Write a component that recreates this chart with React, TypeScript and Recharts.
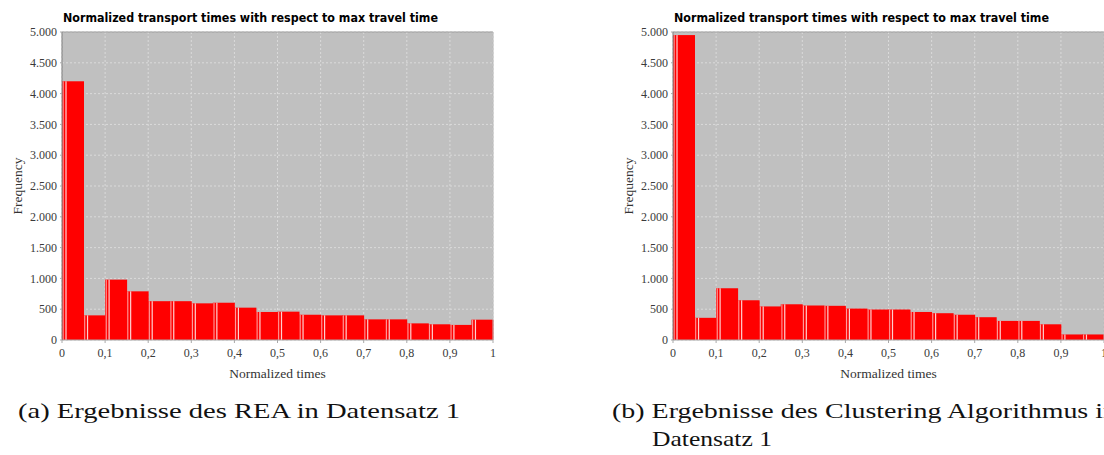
import React from 'react';
import { BarChart, Bar, XAxis, YAxis, CartesianGrid, ReferenceLine, Label } from 'recharts';

// ---- data ----
const binLabels = [
  '0–0,05', '0,05–0,1', '0,1–0,15', '0,15–0,2', '0,2–0,25', '0,25–0,3', '0,3–0,35', '0,35–0,4', '0,4–0,45', '0,45–0,5',
  '0,5–0,55', '0,55–0,6', '0,6–0,65', '0,65–0,7', '0,7–0,75', '0,75–0,8', '0,8–0,85', '0,85–0,9', '0,9–0,95', '0,95–1',
];
const binStarts = [0, 0.05, 0.1, 0.15, 0.2, 0.25, 0.3, 0.35, 0.4, 0.45, 0.5, 0.55, 0.6, 0.65, 0.7, 0.75, 0.8, 0.85, 0.9, 0.95];
const reaFrequency = [4200, 400, 980, 790, 630, 630, 595, 605, 525, 455, 460, 410, 400, 400, 335, 335, 270, 255, 245, 330];
const clusteringFrequency = [4950, 360, 840, 645, 545, 580, 560, 555, 510, 495, 495, 455, 435, 410, 370, 310, 310, 255, 90, 90];
const xTicks = [0, 0.1, 0.2, 0.3, 0.4, 0.5, 0.6, 0.7, 0.8, 0.9, 1];
const xTickLabels = ['0', '0,1', '0,2', '0,3', '0,4', '0,5', '0,6', '0,7', '0,8', '0,9', '1'];
const yTicks = [0, 500, 1000, 1500, 2000, 2500, 3000, 3500, 4000, 4500, 5000];
const yTickLabels = ['0', '500', '1.000', '1.500', '2.000', '2.500', '3.000', '3.500', '4.000', '4.500', '5.000'];

const chartTitle = 'Normalized transport times with respect to max travel time';
const xLabel = 'Normalized times';
const yLabel = 'Frequency';
const captionA = '(a) Ergebnisse des REA in Datensatz 1';
const captionB1 = '(b) Ergebnisse des Clustering Algorithmus in';
const captionB2 = 'Datensatz 1';

const tickStyle = { fontFamily: '"Liberation Serif", serif', fontSize: 12, fill: '#3A3A3A' };

const HistBar = (props: any) => {
  const { x, y, width, height } = props;
  if (!height || height <= 0) return null;
  return (
    <g>
      <rect x={x} y={y} width={width} height={height} fill="#FF0000" />
      <rect x={x + 0.6} y={y} width={1.1} height={height} fill="#FF9C9C" />
      <rect x={x + 3.4} y={y} width={1.2} height={height} fill="#FFD0D0" />
    </g>
  );
};

const YLabelContent = (props: any) => {
  const vb = props.viewBox || { x: 0, y: 32, width: 62, height: 308 };
  const cx = vb.x + 17.5;
  const cy = vb.y + vb.height / 2;
  return (
    <text
      x={cx}
      y={cy}
      transform={`rotate(-90 ${cx} ${cy})`}
      textAnchor="middle"
      dominantBaseline="central"
      style={{ fontFamily: '"Liberation Serif", serif', fontSize: 13.5, fill: '#333333' }}
    >
      {yLabel}
    </text>
  );
};

function Histogram({ values }: { values: number[] }) {
  const data = binLabels.map((bin, i) => ({ bin, start: binStarts[i], freq: values[i] }));
  return (
    <BarChart
      width={500}
      height={390}
      data={data}
      margin={{ top: 32, right: 7, bottom: 0, left: 0 }}
      barCategoryGap={0}
      barGap={0}
    >
      <CartesianGrid
        xAxisId="num"
        stroke="#DADADA"
        strokeDasharray="2 2"
        fill="#C0C0C0"
        fillOpacity={1}
      />
      <XAxis xAxisId="cat" dataKey="bin" hide height={0} />
      <XAxis
        xAxisId="num"
        dataKey="start"
        type="number"
        domain={[0, 1]}
        ticks={xTicks}
        interval={0}
        tickFormatter={(v: number) => xTickLabels[xTicks.indexOf(v)] ?? String(v)}
        tick={tickStyle}
        tickSize={3}
        tickMargin={5}
        axisLine={{ stroke: '#A8A8A8' }}
        tickLine={{ stroke: '#A8A8A8' }}
        height={50}
      >
        <Label
          value={xLabel}
          position="insideBottom"
          offset={12}
          style={{ fontFamily: '"Liberation Serif", serif', fontSize: 13.5, fill: '#333333' }}
        />
      </XAxis>
      <YAxis
        type="number"
        domain={[0, 5000]}
        ticks={yTicks}
        interval={0}
        tickFormatter={(v: number) => yTickLabels[yTicks.indexOf(v)] ?? String(v)}
        tick={tickStyle}
        tickSize={2}
        tickMargin={3}
        axisLine={{ stroke: '#7A7A7A' }}
        tickLine={{ stroke: '#A8A8A8' }}
        width={62}
      >
        <Label content={<YLabelContent />} />
      </YAxis>
      <ReferenceLine y={5000} stroke="#9A9A9A" />
      <ReferenceLine x={1} xAxisId="num" stroke="#B8B8B8" />
      <Bar xAxisId="cat" dataKey="freq" shape={<HistBar />} isAnimationActive={false} />
    </BarChart>
  );
}

export default function App() {
  return (
    <div
      style={{
        position: 'absolute',
        left: 0,
        top: 0,
        width: 1104,
        height: 455,
        overflow: 'hidden',
        background: '#FFFFFF',
      }}
    >
      <div style={{ position: 'absolute', left: 0, top: 0 }}>
        <Histogram values={reaFrequency} />
      </div>
      <div style={{ position: 'absolute', left: 611, top: 0 }}>
        <Histogram values={clusteringFrequency} />
      </div>
      <svg
        width={1104}
        height={455}
        style={{ position: 'absolute', left: 0, top: 0, pointerEvents: 'none' }}
      >
        <text
          x={63}
          y={22}
          textLength={375}
          lengthAdjust="spacingAndGlyphs"
          style={{ fontFamily: '"DejaVu Sans", sans-serif', fontWeight: 700, fontSize: 12, fill: '#000' }}
        >
          {chartTitle}
        </text>
        <text
          x={674}
          y={22}
          textLength={375}
          lengthAdjust="spacingAndGlyphs"
          style={{ fontFamily: '"DejaVu Sans", sans-serif', fontWeight: 700, fontSize: 12, fill: '#000' }}
        >
          {chartTitle}
        </text>
        <text
          x={18}
          y={418}
          textLength={442}
          lengthAdjust="spacingAndGlyphs"
          style={{ fontFamily: '"Liberation Serif", serif', fontSize: 21, fill: '#111' }}
        >
          {captionA}
        </text>
        <text
          x={612}
          y={418}
          textLength={505}
          lengthAdjust="spacingAndGlyphs"
          style={{ fontFamily: '"Liberation Serif", serif', fontSize: 21, fill: '#111' }}
        >
          {captionB1}
        </text>
        <text
          x={652}
          y={446}
          textLength={120}
          lengthAdjust="spacingAndGlyphs"
          style={{ fontFamily: '"Liberation Serif", serif', fontSize: 21, fill: '#111' }}
        >
          {captionB2}
        </text>
      </svg>
    </div>
  );
}
